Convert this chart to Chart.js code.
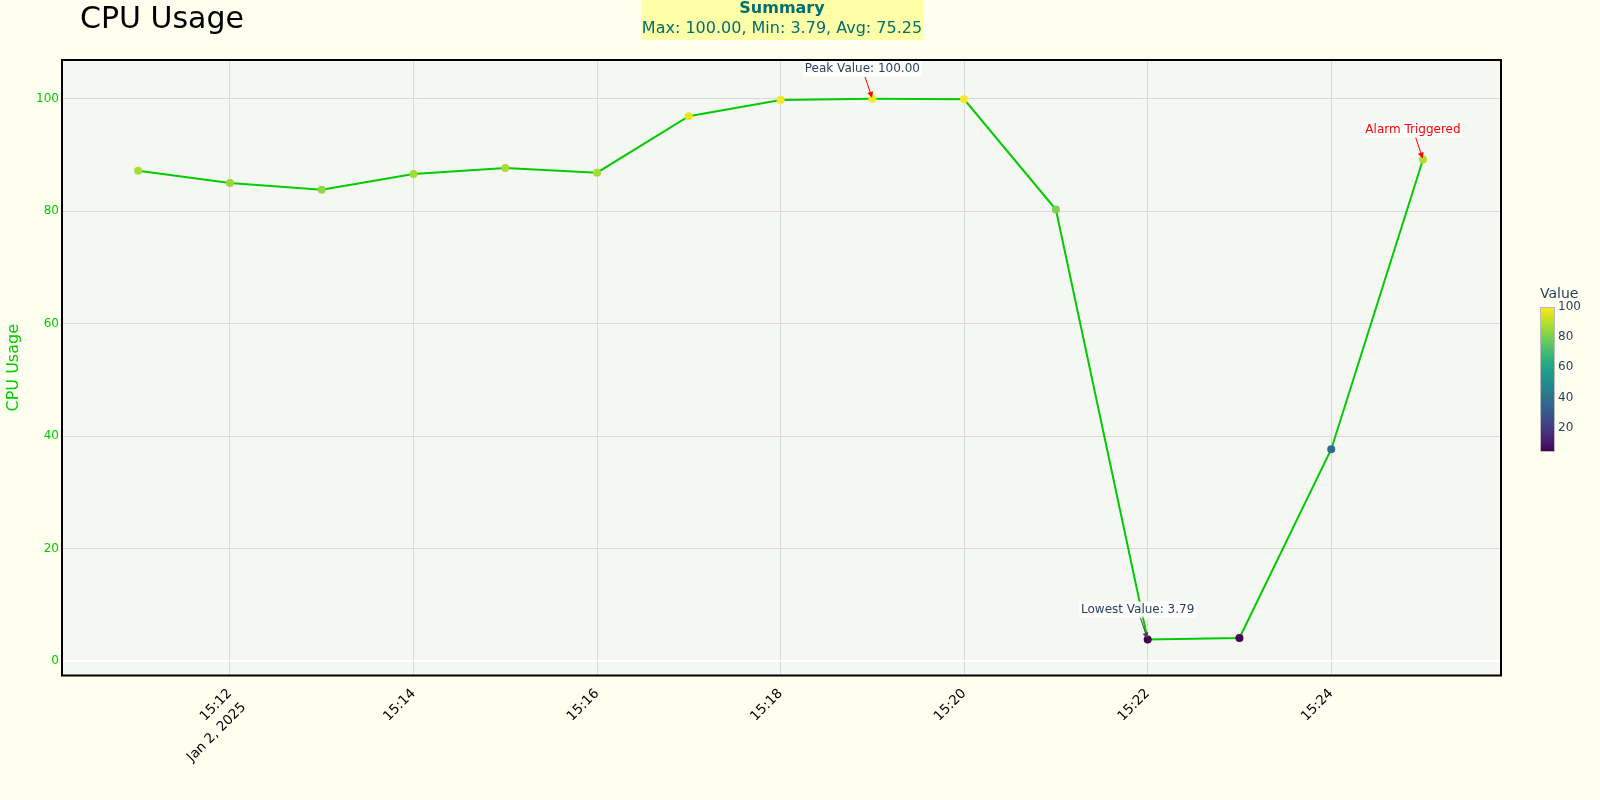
<!DOCTYPE html>
<html>
<head>
<meta charset="utf-8">
<script src="https://cdn.jsdelivr.net/npm/chart.js@4.4.1/dist/chart.umd.min.js"></script>
<style>
  html, body { margin: 0; padding: 0; background: #fffff0; }
  #grafico { display: block; }
</style>
</head>
<body>
<canvas id="grafico" width="1600" height="800"></canvas>
<script>
// minutes after 15:00 on Jan 2, 2025
const minutos = [11, 12, 13, 14, 15, 16, 17, 18, 19, 20, 21, 22, 23, 24, 25];
const cpu = [87.2, 85.0, 83.8, 86.6, 87.7, 86.85, 96.9, 99.8, 100.0, 99.9, 80.3, 3.79, 4.08, 37.66, 89.2];

const xTicks = [12, 14, 16, 18, 20, 22, 24];
const xLabels = [["15:12", "Jan 2, 2025"], "15:14", "15:16", "15:18", "15:20", "15:22", "15:24"];
const yTicks = [0, 20, 40, 60, 80, 100];
const barTicks = [20, 40, 60, 80, 100];

const notas = [
  { idx: 8, text: "Peak Value: 100.00", color: "#2a3f5f", arrow: "#ff0000" },
  { idx: 11, text: "Lowest Value: 3.79", color: "#2a3f5f", arrow: "#444444" },
  { idx: 14, text: "Alarm Triggered", color: "#ff0000", arrow: "#ff0000" },
];

const FONT = "'DejaVu Sans', sans-serif";
const verde = "#00cc00";

const viridisStops = ["#440154", "#48186a", "#472d7b", "#424086", "#3b528b", "#33638d", "#2c728e",
  "#26828e", "#21918c", "#1fa088", "#28ae80", "#3fbc73", "#5ec962", "#84d44b", "#addc30", "#d8e219", "#fde725"];

const hexRgb = (h) => [1, 3, 5].map(i => parseInt(h.substr(i, 2), 16));
const viridis = (t) => {
  t = Math.max(0, Math.min(1, t));
  const p = t * (viridisStops.length - 1);
  const i = Math.min(Math.floor(p), viridisStops.length - 2);
  const f = p - i;
  const a = hexRgb(viridisStops[i]), b = hexRgb(viridisStops[i + 1]);
  const c = a.map((v, k) => Math.round(v + (b[k] - v) * f));
  return `rgb(${c[0]},${c[1]},${c[2]})`;
};

const cmin = Math.min(...cpu);
const cmax = Math.max(...cpu);
const coresPontos = cpu.map(v => viridis((v - cmin) / (cmax - cmin)));

const fundo = {
  id: "fundo",
  beforeDraw(chart) {
    const { ctx, chartArea: a } = chart;
    ctx.save();
    ctx.fillStyle = "#fffff0";
    ctx.fillRect(0, 0, chart.width, chart.height);
    ctx.fillStyle = "#f5f8f2";
    ctx.fillRect(a.left, a.top, a.right - a.left, a.bottom - a.top);
    ctx.restore();
  },
};

const moldura = {
  id: "moldura",
  afterDraw(chart) {
    const { ctx, chartArea: a } = chart;
    ctx.save();
    ctx.strokeStyle = "#000";
    ctx.lineWidth = 2;
    ctx.strokeRect(a.left, a.top, a.right - a.left, a.bottom - a.top);

    // title
    ctx.fillStyle = "#000";
    ctx.font = `30px ${FONT}`;
    ctx.textBaseline = "middle";
    ctx.textAlign = "left";
    ctx.fillText("CPU Usage", 80, 20);

    // summary box
    const media = cpu.reduce((s, v) => s + v, 0) / cpu.length;
    ctx.fillStyle = "#ffffa8";
    ctx.fillRect(641, 0, 282, 40);
    ctx.fillStyle = "#006f6f";
    ctx.textAlign = "center";
    ctx.font = `bold 16px ${FONT}`;
    ctx.fillText("Summary", 782, 9);
    ctx.font = `16px ${FONT}`;
    ctx.fillText(`Max: ${cmax.toFixed(2)}, Min: ${cmin.toFixed(2)}, Avg: ${media.toFixed(2)}`, 782, 29);

    // colorbar
    const bx = 1540, bw = 15, top = 307, bot = 452;
    const g = ctx.createLinearGradient(0, bot, 0, top);
    viridisStops.forEach((c, i) => g.addColorStop(i / (viridisStops.length - 1), c));
    ctx.fillStyle = g;
    ctx.fillRect(bx, top, bw, bot - top);
    ctx.strokeStyle = "#bbbbbb";
    ctx.lineWidth = 1;
    ctx.strokeRect(bx + 0.5, top + 0.5, bw - 1, bot - top - 1);
    ctx.fillStyle = "#2a3f5f";
    ctx.textAlign = "left";
    ctx.font = `14px ${FONT}`;
    ctx.fillText("Value", bx, 294);
    ctx.font = `12px ${FONT}`;
    barTicks.forEach(v => {
      const y = bot - (v - cmin) / (cmax - cmin) * (bot - top);
      ctx.fillText(String(v), bx + bw + 3, y);
    });
    ctx.restore();
  },
};

const anotacoes = {
  id: "anotacoes",
  afterDatasetsDraw(chart) {
    const { ctx } = chart;
    const xs = chart.scales.x, ys = chart.scales.y;
    ctx.save();
    ctx.font = `12px ${FONT}`;
    notas.forEach(n => {
      const px = xs.getPixelForValue(minutos[n.idx]);
      const py = ys.getPixelForValue(cpu[n.idx]);
      const tx = px - 10, ty = py - 30;
      const w = ctx.measureText(n.text).width + 4;
      const h = 16;
      // arrow
      const dx = px - tx, dy = py - ty;
      const t0 = (h / 2) / dy;
      const sx = tx + dx * t0, sy = ty + dy * t0;
      const len = Math.hypot(dx, dy);
      const ux = dx / len, uy = dy / len;
      const ex = px - ux * 1, ey = py - uy * 1;
      ctx.strokeStyle = n.arrow;
      ctx.fillStyle = n.arrow;
      ctx.lineWidth = 1;
      ctx.beginPath();
      ctx.moveTo(sx, sy);
      ctx.lineTo(ex - ux * 4, ey - uy * 4);
      ctx.stroke();
      ctx.beginPath();
      ctx.moveTo(ex, ey);
      ctx.lineTo(ex - ux * 6 - uy * 3, ey - uy * 6 + ux * 3);
      ctx.lineTo(ex - ux * 6 + uy * 3, ey - uy * 6 - ux * 3);
      ctx.closePath();
      ctx.fill();
      // text box
      ctx.fillStyle = "rgba(255,255,255,0.85)";
      ctx.fillRect(tx - w / 2, ty - h / 2, w, h);
      ctx.fillStyle = n.color;
      ctx.textAlign = "center";
      ctx.textBaseline = "middle";
      ctx.fillText(n.text, tx, ty);
    });
    ctx.restore();
  },
};

const ctx = document.getElementById("grafico").getContext("2d");

const chart = new Chart(ctx, {
  type: "line",
  data: {
    datasets: [
      {
        label: "CPU Usage",
        data: minutos.map((m, i) => ({ x: m, y: cpu[i] })),
        borderColor: verde,
        borderWidth: 2,
        tension: 0,
        pointRadius: 4,
        pointHoverRadius: 4,
        pointBackgroundColor: coresPontos,
        pointBorderColor: coresPontos,
        pointBorderWidth: 0,
      },
    ],
  },
  options: {
    responsive: false,
    animation: false,
    devicePixelRatio: 1,
    layout: { padding: { left: 0, top: 60, right: 99, bottom: 0 } },
    plugins: {
      legend: { display: false },
      title: { display: false },
      tooltip: { enabled: false },
    },
    scales: {
      x: {
        type: "linear",
        min: 10.17,
        max: 25.85,
        afterBuildTicks: (s) => { s.ticks = xTicks.map(v => ({ value: v })); },
        afterFit: (s) => { s.height = 124.5; },
        grid: { color: "#d9d9d9", drawTicks: false },
        border: { display: false },
        ticks: {
          autoSkip: false,
          minRotation: 45,
          maxRotation: 45,
          padding: 9,
          color: "#000",
          font: { family: FONT, size: 13.5, lineHeight: 1.45 },
          callback: (v) => xLabels[xTicks.indexOf(v)],
        },
      },
      y: {
        min: -2.6,
        max: 106.9,
        afterBuildTicks: (s) => { s.ticks = yTicks.map(v => ({ value: v })); },
        afterFit: (s) => { s.width = 62; },
        grid: {
          color: (c) => (c.tick && c.tick.value === 0 ? "#ffffff" : "#d9d9d9"),
          lineWidth: (c) => (c.tick && c.tick.value === 0 ? 2 : 1),
          drawTicks: false,
        },
        border: { display: false },
        title: {
          display: true,
          text: "CPU Usage",
          color: verde,
          font: { family: FONT, size: 16 },
        },
        ticks: {
          padding: 3,
          color: verde,
          font: { family: FONT, size: 12 },
        },
      },
    },
  },
  plugins: [fundo, anotacoes, moldura],
});
</script>
</body>
</html>
